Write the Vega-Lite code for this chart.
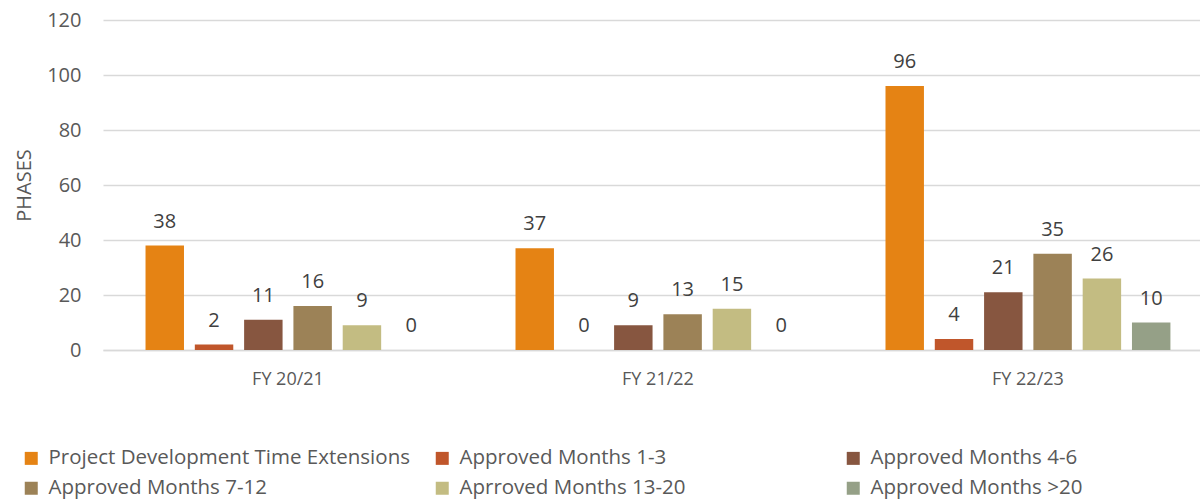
{
  "$schema": "https://vega.github.io/schema/vega-lite/v6.json",
  "autosize": "none",
  "width": 1097,
  "height": 330,
  "padding": {"left": 103, "top": 20, "right": 0, "bottom": 149},
  "background": "white",
  "config": {
    "font": "Open Sans",
    "view": {"stroke": null}
  },
  "data": {
    "values": [
      {"fy": "FY 20/21", "series": "Project Development Time Extensions", "phases": 38},
      {"fy": "FY 20/21", "series": "Approved Months  1-3", "phases": 2},
      {"fy": "FY 20/21", "series": "Approved Months  4-6", "phases": 11},
      {"fy": "FY 20/21", "series": "Approved Months  7-12", "phases": 16},
      {"fy": "FY 20/21", "series": "Aprroved Months 13-20", "phases": 9},
      {"fy": "FY 20/21", "series": "Approved Months >20", "phases": 0},
      {"fy": "FY 21/22", "series": "Project Development Time Extensions", "phases": 37},
      {"fy": "FY 21/22", "series": "Approved Months  1-3", "phases": 0},
      {"fy": "FY 21/22", "series": "Approved Months  4-6", "phases": 9},
      {"fy": "FY 21/22", "series": "Approved Months  7-12", "phases": 13},
      {"fy": "FY 21/22", "series": "Aprroved Months 13-20", "phases": 15},
      {"fy": "FY 21/22", "series": "Approved Months >20", "phases": 0},
      {"fy": "FY 22/23", "series": "Project Development Time Extensions", "phases": 96},
      {"fy": "FY 22/23", "series": "Approved Months  1-3", "phases": 4},
      {"fy": "FY 22/23", "series": "Approved Months  4-6", "phases": 21},
      {"fy": "FY 22/23", "series": "Approved Months  7-12", "phases": 35},
      {"fy": "FY 22/23", "series": "Aprroved Months 13-20", "phases": 26},
      {"fy": "FY 22/23", "series": "Approved Months >20", "phases": 10}
    ]
  },
  "encoding": {
    "x": {
      "field": "fy",
      "type": "nominal",
      "sort": null,
      "scale": {"paddingInner": 0.07, "paddingOuter": 0.0175, "align": 1},
      "axis": {
        "title": null,
        "labelAngle": 0,
        "labelFontSize": 18,
        "labelColor": "#595959",
        "labelPadding": 20,
        "ticks": false,
        "domainColor": "#d9d9d9",
        "domainWidth": 1.5
      }
    },
    "xOffset": {
      "field": "series",
      "type": "nominal",
      "sort": null,
      "scale": {
        "domain": ["Project Development Time Extensions", "Approved Months  1-3", "Approved Months  4-6", "Approved Months  7-12", "Aprroved Months 13-20", "Approved Months >20"],
        "paddingInner": 0.22,
        "paddingOuter": 0.6
      }
    },
    "y": {
      "field": "phases",
      "type": "quantitative",
      "scale": {"domain": [0, 120], "nice": false},
      "axis": {
        "title": "PHASES",
        "titleFontSize": 20,
        "titleFontWeight": "normal",
        "titleColor": "#595959",
        "titlePadding": 12,
        "values": [0, 20, 40, 60, 80, 100, 120],
        "labelFontSize": 20,
        "labelColor": "#595959",
        "labelPadding": 22,
        "ticks": false,
        "domain": false,
        "gridColor": "#d9d9d9",
        "gridWidth": 1.5
      }
    }
  },
  "layer": [
    {
      "mark": {"type": "bar"},
      "encoding": {
        "color": {
          "field": "series",
          "type": "nominal",
          "scale": {
            "domain": ["Project Development Time Extensions", "Approved Months  1-3", "Approved Months  4-6", "Approved Months  7-12", "Aprroved Months 13-20", "Approved Months >20"],
            "range": ["#E58314", "#C0562B", "#875640", "#9C8257", "#C3BC82", "#95A087"]
          },
          "legend": {
            "title": null,
            "orient": "none",
            "legendX": -82,
            "legendY": 428,
            "direction": "horizontal",
            "columns": 3,
            "gridAlign": "all",
            "columnPadding": 22,
            "rowPadding": 9,
            "symbolType": "square",
            "symbolSize": 169,
            "symbolStrokeWidth": 0,
            "labelFontSize": 20.5,
            "labelColor": "#595959",
            "labelOffset": 7,
            "labelLimit": 500
          }
        }
      }
    },
    {
      "mark": {"type": "text", "baseline": "alphabetic", "dy": -18, "fontSize": 20, "color": "#404040"},
      "encoding": {
        "text": {"field": "phases", "type": "quantitative"}
      }
    }
  ]
}
